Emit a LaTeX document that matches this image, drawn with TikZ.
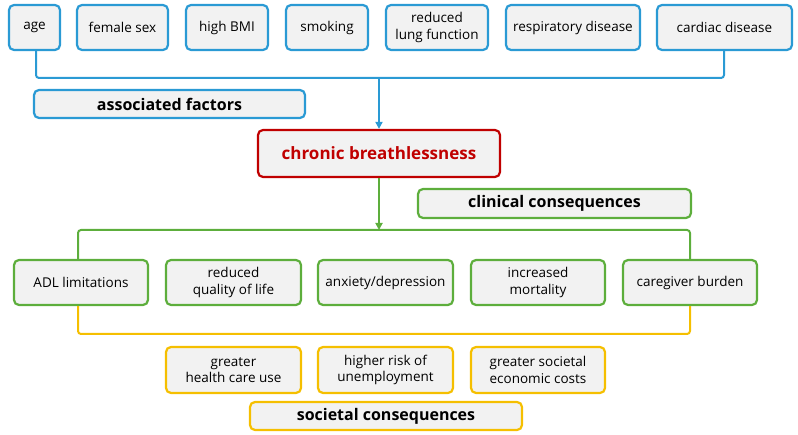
\documentclass[tikz,border=0pt]{standalone}
\usepackage{fontspec}
\setmainfont{Open Sans}
\usetikzlibrary{arrows.meta}
\definecolor{cblue}{HTML}{2A9AD4}
\definecolor{cgreen}{HTML}{5DAE3C}
\definecolor{cred}{HTML}{C00000}
\definecolor{cyel}{HTML}{F5BF00}
\definecolor{cfill}{HTML}{F2F2F2}
\begin{document}
\begin{tikzpicture}[x=1pt,y=-1pt,
  box/.style={draw,fill=cfill,line width=2.2pt,rounded corners=5pt,align=center,font=\fontsize{13.5}{16.5}\selectfont,inner sep=0pt},
  bbox/.style={box,draw=cblue},
  gbox/.style={box,draw=cgreen},
  ybox/.style={box,draw=cyel},
  title/.style={font=\bfseries\fontsize{16}{18}\selectfont},
  link/.style={line width=2pt,rounded corners=3pt},
  arr/.style={line width=2pt,-{Triangle[length=7pt,width=7pt]}}]
\useasboundingbox (0,0) rectangle (798,435);
\newcommand\bx[6]{\node[#1,minimum width=#4-#3,minimum height=#6-#5] (#2) at ({(#3+#4)/2},{(#5+#6)/2})}
% top row
\bx{bbox}{age}{9}{60}{5}{50}{age};
\bx{bbox}{fem}{77}{168}{5}{50}{female sex};
\bx{bbox}{bmi}{186}{268}{5}{50}{high BMI};
\bx{bbox}{smk}{286}{368}{5}{50}{smoking};
\bx{bbox}{lung}{386}{488}{5}{50}{reduced\\lung function};
\bx{bbox}{resp}{506}{640}{5}{50}{respiratory disease};
\bx{bbox}{card}{657}{792}{5}{50}{cardiac disease};
\bx{bbox,title}{assoc}{34}{305}{90}{118}{associated factors};
\bx{box,draw=cred,title,text=cred,font=\bfseries\fontsize{17}{19}\selectfont}{cb}{258}{500}{130}{177}{chronic breathlessness};
\bx{gbox,title}{clin}{418}{691}{189}{218}{clinical consequences};
% green row
\bx{gbox}{adl}{14}{148}{260}{305}{ADL limitations};
\bx{gbox}{qol}{166}{301}{260}{305}{reduced\\quality of life};
\bx{gbox}{anx}{318}{453}{260}{305}{anxiety/depression};
\bx{gbox}{mort}{471}{605}{260}{305}{increased\\mortality};
\bx{gbox}{care}{623}{757}{260}{305}{caregiver burden};
% yellow row
\bx{ybox}{hcu}{166}{301}{347}{393}{greater\\health care use};
\bx{ybox}{unem}{318}{453}{347}{393}{higher risk of\\unemployment};
\bx{ybox}{cost}{471}{605}{347}{393}{greater societal\\economic costs};
\bx{ybox,title}{soc}{250}{522}{402}{430}{societal consequences};
% connectors
\coordinate (bl) at (36,78);
\coordinate (br) at (724,78);
\coordinate (bm) at (379,78);
\draw[link,cblue] (age.south -| bl) -- (bl) -- (br) -- (card.south -| br);
\draw[arr,cblue] (bm) -- (cb.north -| bm);
\coordinate (gm) at (379,230);
\draw[arr,cgreen] (cb.south -| gm) -- (gm);
\coordinate (gl) at (78,230);
\coordinate (gr) at (690,230);
\draw[link,cgreen] (adl.north -| gl) -- (gl) -- (gr) -- (care.north -| gr);
\coordinate (yl) at (78,334);
\coordinate (yr) at (690,334);
\draw[link,cyel] (adl.south -| yl) -- (yl) -- (yr) -- (care.south -| yr);
\end{tikzpicture}
\end{document}
